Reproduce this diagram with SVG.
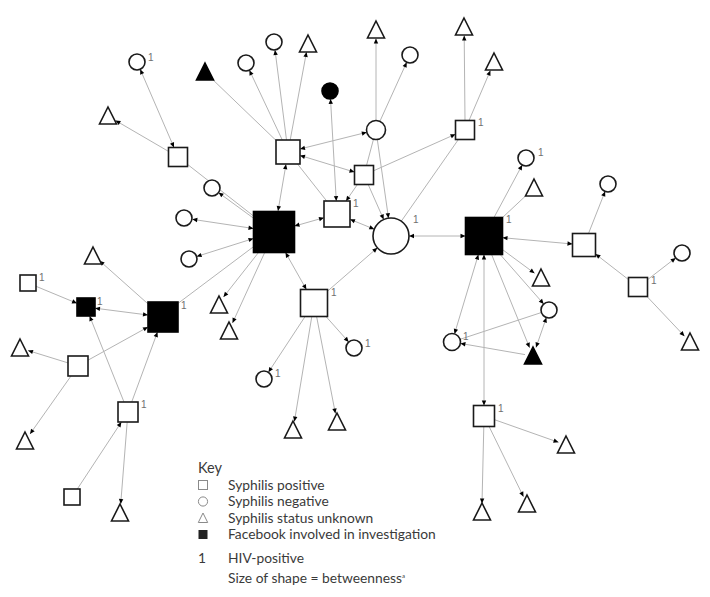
<svg xmlns="http://www.w3.org/2000/svg" xmlns:xlink="http://www.w3.org/1999/xlink" width="710" height="597" viewBox="0 0 710 597">
<style>
.e line{stroke:#b4b4b4;stroke-width:1;fill:none}
.b{marker-end:url(#ar);marker-start:url(#ar)}
.t{marker-end:url(#ar)}
.n{fill:#fff;stroke:#1a1a1a;stroke-width:1.6}
.f{fill:#000;stroke:#000;stroke-width:1.6}
.lb{font-family:"Liberation Sans",Arial,sans-serif;font-size:10px;fill:#707070}
.k{font-family:Lato,"Open Sans",sans-serif;font-size:13.8px;fill:#3a3a3a}
.ki{fill:#fff;stroke:#8a8a8a;stroke-width:1}
</style>
<defs>
<marker id="ar" markerUnits="userSpaceOnUse" markerWidth="10" markerHeight="10" refX="0" refY="0" orient="auto-start-reverse" overflow="visible"><path d="M0,0 L-5,-2.2 L-5,2.2 Z" fill="#000"/></marker>
<path id="tri" d="M0,-9 L8.5,8 L-8.5,8 Z"/>
</defs>
<rect width="710" height="597" fill="#fff"/>
<g id="connectors" class="e">
<line class="b" x1="174" y1="147.5" x2="140.2" y2="69.3"/>
<line class="t" x1="168.5" y1="151.4" x2="115.5" y2="120.5"/>
<line x1="187.5" y1="164.4" x2="253.5" y2="216"/>
<line class="t" x1="253.5" y1="218.2" x2="218.5" y2="192.6"/>
<line x1="210" y1="77" x2="276" y2="140.4"/>
<line class="t" x1="282.3" y1="140" x2="249.4" y2="70.2"/>
<line class="t" x1="286.5" y1="140" x2="275" y2="50"/>
<line class="t" x1="290.2" y1="140" x2="306.5" y2="52"/>
<line class="b" x1="366.8" y1="132.3" x2="300" y2="149"/>
<line class="b" x1="354.5" y1="172.1" x2="300" y2="155.4"/>
<line class="t" x1="376" y1="120.5" x2="376" y2="38.5"/>
<line class="t" x1="379.9" y1="121.3" x2="406.7" y2="62.3"/>
<line x1="373.5" y1="139.2" x2="366.5" y2="165.5"/>
<line class="t" x1="377.3" y1="139.4" x2="388.5" y2="218.2"/>
<line class="t" x1="368.2" y1="184.5" x2="383.7" y2="219.5"/>
<line class="t" x1="357.4" y1="184.5" x2="346" y2="201"/>
<line class="t" x1="373.5" y1="170.8" x2="455.5" y2="134.2"/>
<line class="b" x1="330.5" y1="99" x2="336.3" y2="201"/>
<line class="b" x1="286" y1="164.3" x2="278" y2="211"/>
<line x1="297.5" y1="164" x2="326.7" y2="201"/>
<line class="b" x1="294.5" y1="226.1" x2="324" y2="217.7"/>
<line class="b" x1="350" y1="219.3" x2="374.3" y2="229.2"/>
<line class="t" x1="327.5" y1="291.2" x2="377.4" y2="247.8"/>
<line class="b" x1="409" y1="236" x2="465.5" y2="236"/>
<line x1="458.4" y1="139.5" x2="401.3" y2="221.2"/>
<line class="t" x1="465" y1="120.5" x2="464.2" y2="35.5"/>
<line class="t" x1="469" y1="120.5" x2="490.4" y2="70.5"/>
<line class="t" x1="494" y1="217.5" x2="522.2" y2="165"/>
<line x1="502.5" y1="217.5" x2="528.2" y2="193.5"/>
<line class="t" x1="502.5" y1="249.6" x2="534.6" y2="273.3"/>
<line class="t" x1="500.2" y1="254.5" x2="543.7" y2="304"/>
<line class="t" x1="491.6" y1="254.5" x2="529.6" y2="347.7"/>
<line class="b" x1="502.5" y1="237.7" x2="572.5" y2="244"/>
<line class="t" x1="588.5" y1="233.5" x2="605.1" y2="191.4"/>
<line class="t" x1="628.5" y1="279.6" x2="595.5" y2="254"/>
<line class="t" x1="647.5" y1="279.7" x2="675.7" y2="257.9"/>
<line class="t" x1="647" y1="296.5" x2="684.5" y2="336.2"/>
<line class="b" x1="546.4" y1="317.6" x2="536" y2="347.5"/>
<line x1="541.4" y1="312.5" x2="460.1" y2="339.3"/>
<line class="t" x1="525" y1="354.6" x2="460.4" y2="343.4"/>
<line class="b" x1="478.4" y1="254.5" x2="454.5" y2="333.9"/>
<line class="b" x1="484" y1="405.5" x2="484" y2="254.5"/>
<line class="t" x1="494.5" y1="419.7" x2="558.5" y2="442.3"/>
<line class="t" x1="489.1" y1="426.5" x2="523.5" y2="496.8"/>
<line class="t" x1="483.8" y1="426.5" x2="482" y2="503.5"/>
<line class="b" x1="192.3" y1="219.3" x2="253.5" y2="228.5"/>
<line class="b" x1="196.6" y1="256.5" x2="253.5" y2="238.5"/>
<line class="t" x1="258.5" y1="252.5" x2="223.5" y2="297"/>
<line class="t" x1="264.7" y1="252.5" x2="232.5" y2="323"/>
<line x1="253.5" y1="246.7" x2="178.5" y2="303"/>
<line class="b" x1="95" y1="308.2" x2="148" y2="315"/>
<line class="t" x1="36" y1="286.3" x2="77" y2="303.3"/>
<line class="t" x1="148" y1="303.9" x2="99.5" y2="260.7"/>
<line class="t" x1="88" y1="360.2" x2="148" y2="327"/>
<line class="t" x1="68" y1="362.9" x2="28" y2="350.5"/>
<line class="t" x1="124" y1="402" x2="89.6" y2="316"/>
<line class="t" x1="131.7" y1="402" x2="157.5" y2="332"/>
<line class="t" x1="71" y1="376" x2="30" y2="434"/>
<line class="t" x1="77.3" y1="489" x2="121.4" y2="422"/>
<line class="t" x1="127.2" y1="422" x2="120.7" y2="504"/>
<line class="t" x1="305.1" y1="316.5" x2="268.4" y2="372.3"/>
<line class="t" x1="326" y1="316.5" x2="348.7" y2="342"/>
<line class="t" x1="311.8" y1="316.5" x2="294.4" y2="421.5"/>
<line class="t" x1="316.6" y1="316.5" x2="335.4" y2="413.5"/>
<line class="b" x1="285.5" y1="252.5" x2="306.4" y2="289.5"/>
</g>
<g id="nA"><circle class="n" cx="137" cy="62" r="8"/><text class="lb" x="148" y="61">1</text></g>
<g id="nB"><use href="#tri" class="f" x="205" y="72"/></g>
<g id="nC"><use href="#tri" class="n" x="108" y="116"/></g>
<g id="nD"><rect class="n" x="168.5" y="147.5" width="19" height="19"/></g>
<g id="nE"><circle class="n" cx="212" cy="188" r="8"/></g>
<g id="nF"><circle class="n" cx="246" cy="63" r="8"/></g>
<g id="nG"><circle class="n" cx="274" cy="42" r="8"/></g>
<g id="nH"><use href="#tri" class="n" x="308" y="44"/></g>
<g id="nI"><circle class="f" cx="330" cy="91" r="8"/></g>
<g id="nJ"><use href="#tri" class="n" x="376" y="30"/></g>
<g id="nK"><circle class="n" cx="410" cy="55" r="8"/></g>
<g id="nL"><circle class="n" cx="376" cy="130" r="9.5"/></g>
<g id="nM"><rect class="n" x="276" y="140" width="24" height="24"/></g>
<g id="nN"><rect class="n" x="354.5" y="165.5" width="19" height="19"/></g>
<g id="nO"><rect class="n" x="455.5" y="120.5" width="19" height="19"/><text class="lb" x="478" y="126">1</text></g>
<g id="nP"><use href="#tri" class="n" x="464" y="27"/></g>
<g id="nQ"><use href="#tri" class="n" x="494" y="62"/></g>
<g id="nR"><circle class="n" cx="526" cy="158" r="8"/><text class="lb" x="538" y="156">1</text></g>
<g id="nS"><use href="#tri" class="n" x="534" y="188"/></g>
<g id="nT"><circle class="n" cx="608" cy="184" r="8"/></g>
<g id="nU"><rect class="f" x="253.5" y="211.5" width="41" height="41"/></g>
<g id="nW"><circle class="n" cx="184" cy="218" r="8"/></g>
<g id="nX"><circle class="n" cx="189" cy="259" r="8"/></g>
<g id="nY"><use href="#tri" class="n" x="93" y="256"/></g>
<g id="nZ"><rect class="n" x="20" y="275" width="16" height="16"/><text class="lb" x="39" y="281">1</text></g>
<g id="nAA"><rect class="f" x="77" y="298" width="18" height="18"/><text class="lb" x="97" y="305">1</text></g>
<g id="nAB"><rect class="f" x="148" y="302" width="30" height="30"/><text class="lb" x="181" y="309">1</text></g>
<g id="nAC"><use href="#tri" class="n" x="20" y="348"/></g>
<g id="nAD"><rect class="n" x="68" y="356" width="20" height="20"/></g>
<g id="nAE"><use href="#tri" class="n" x="219" y="305"/></g>
<g id="nAF"><use href="#tri" class="n" x="229" y="331"/></g>
<g id="nAG"><rect class="n" x="118" y="402" width="20" height="20"/><text class="lb" x="141" y="408">1</text></g>
<g id="nAH"><use href="#tri" class="n" x="25" y="441"/></g>
<g id="nAI"><rect class="n" x="64" y="489" width="16" height="16"/></g>
<g id="nAJ"><use href="#tri" class="n" x="120" y="513"/></g>
<g id="nAK"><rect class="n" x="324" y="201" width="26" height="26"/><text class="lb" x="353" y="207">1</text></g>
<g id="nAL"><circle class="n" cx="391" cy="236" r="18"/><text class="lb" x="413" y="223">1</text></g>
<g id="nAM"><rect class="n" x="300.5" y="289.5" width="27" height="27"/><text class="lb" x="331" y="296">1</text></g>
<g id="nAN"><circle class="n" cx="354" cy="348" r="8"/><text class="lb" x="365" y="347">1</text></g>
<g id="nAO"><circle class="n" cx="264" cy="379" r="8"/><text class="lb" x="275" y="377">1</text></g>
<g id="nAP"><use href="#tri" class="n" x="293" y="430"/></g>
<g id="nAQ"><use href="#tri" class="n" x="337" y="422"/></g>
<g id="nAR"><rect class="f" x="465.5" y="217.5" width="37" height="37"/><text class="lb" x="506" y="223">1</text></g>
<g id="nAS"><rect class="n" x="572.5" y="233.5" width="23" height="23"/></g>
<g id="nAT"><use href="#tri" class="n" x="541" y="278"/></g>
<g id="nAU"><circle class="n" cx="549" cy="310" r="8"/></g>
<g id="nAV"><use href="#tri" class="f" x="533" y="356"/></g>
<g id="nAW"><circle class="n" cx="452" cy="342" r="8.5"/><text class="lb" x="463" y="340">1</text></g>
<g id="nAX"><rect class="n" x="628.5" y="277.5" width="19" height="19"/><text class="lb" x="651" y="284">1</text></g>
<g id="nAY"><circle class="n" cx="682" cy="253" r="8"/></g>
<g id="nAZ"><use href="#tri" class="n" x="690" y="342"/></g>
<g id="nBA"><rect class="n" x="473.5" y="405.5" width="21" height="21"/><text class="lb" x="498" y="412">1</text></g>
<g id="nBB"><use href="#tri" class="n" x="566" y="445"/></g>
<g id="nBC"><use href="#tri" class="n" x="527" y="504"/></g>
<g id="nBD"><use href="#tri" class="n" x="482" y="512"/></g>
<g id="legend">
<text class="k" x="198" y="473" style="font-size:14.5px">Key</text>
<rect class="ki" x="198.5" y="480.5" width="9" height="9"/>
<text class="k" x="228" y="489.5">Syphilis positive</text>
<circle class="ki" cx="203" cy="501.5" r="4.6"/>
<text class="k" x="228" y="506">Syphilis negative</text>
<path class="ki" d="M203,513 L207.7,522.5 L198.3,522.5 Z"/>
<text class="k" x="228" y="522.5">Syphilis status unknown</text>
<rect x="198.5" y="530" width="9" height="9" fill="#222"/>
<text class="k" x="228" y="539">Facebook involved in investigation</text>
<text class="k" x="198" y="562.5">1</text>
<text class="k" x="228" y="562.5">HIV-positive</text>
<text class="k" x="228" y="583">Size of shape = betweenness<tspan style="font-size:6px" dy="-5">a</tspan></text>
</g>
</svg>
